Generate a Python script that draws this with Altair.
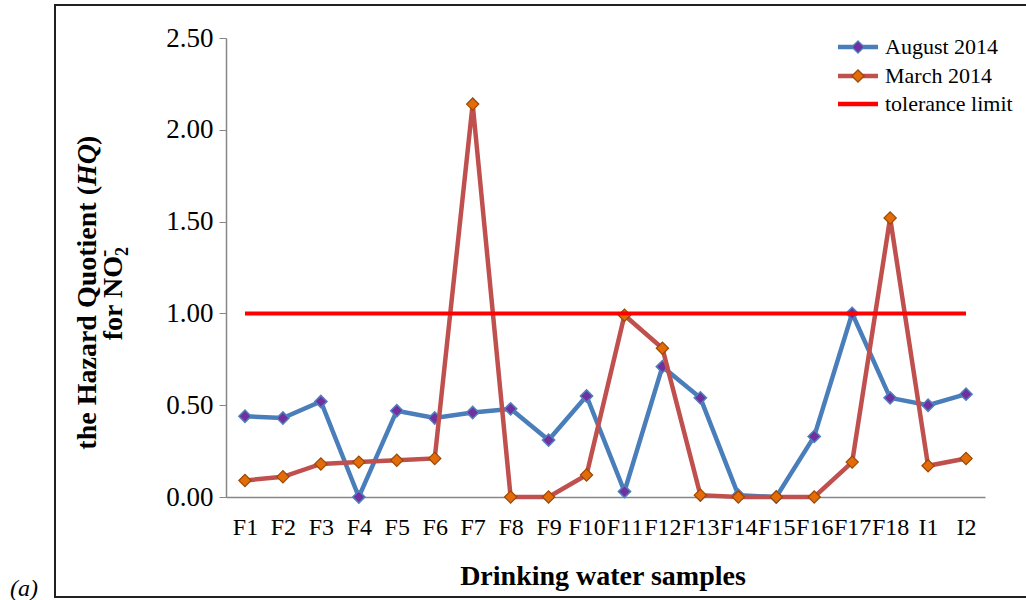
import altair as alt
import pandas as pd

samples = ["F1", "F2", "F3", "F4", "F5", "F6", "F7", "F8", "F9", "F10",
           "F11", "F12", "F13", "F14", "F15", "F16", "F17", "F18", "I1", "I2"]
august = [0.44, 0.43, 0.52, 0.00, 0.47, 0.43, 0.46, 0.48, 0.31, 0.55,
          0.03, 0.71, 0.54, 0.01, 0.00, 0.33, 1.00, 0.54, 0.50, 0.56]
march = [0.09, 0.11, 0.18, 0.19, 0.20, 0.21, 2.14, 0.00, 0.00, 0.12,
         0.99, 0.81, 0.01, 0.00, 0.00, 0.00, 0.19, 1.52, 0.17, 0.21]
tolerance = [1.0] * len(samples)
y_ticks = [0.0, 0.5, 1.0, 1.5, 2.0, 2.5]

SERIF = "Liberation Serif"
AUG_LINE, AUG_FILL, AUG_EDGE = "#4A7EBB", "#7030A0", "#4F81BD"
MAR_LINE, MAR_FILL, MAR_EDGE = "#C0504D", "#E36C09", "#984807"
LIMIT = "#FF0000"

df_aug = pd.DataFrame({"sample": samples, "hq": august})
df_mar = pd.DataFrame({"sample": samples, "hq": march})
df_lim = pd.DataFrame({"sample": samples, "hq": tolerance})

xs = alt.Scale(type="point", padding=0.5, domain=samples)
ys = alt.Scale(domain=[0, 2.5], nice=False)

x_enc = alt.X("sample:N", scale=xs, sort=samples,
              axis=alt.Axis(title=None, labelAngle=0, ticks=False, labelFont=SERIF,
                            labelFontSize=24, labelColor="black", labelPadding=18,
                            domainColor="#868686", domainWidth=1.5, grid=False,
                            labelOverlap=False))
y_enc = alt.Y("hq:Q", scale=ys,
              axis=alt.Axis(title=None, values=y_ticks, format=".2f", grid=False,
                            labelFont=SERIF, labelFontSize=27, labelColor="black",
                            labelPadding=6, tickSize=7, tickColor="#868686",
                            domainColor="#868686", domainWidth=1.5))

aug_line = alt.Chart(df_aug).mark_line(color=AUG_LINE, strokeWidth=4.5).encode(x=x_enc, y=y_enc)
aug_pts = alt.Chart(df_aug).mark_point(shape="diamond", size=150, filled=True, fill=AUG_FILL,
                                       stroke=AUG_EDGE, strokeWidth=1.5, opacity=1).encode(x=x_enc, y=y_enc)
mar_line = alt.Chart(df_mar).mark_line(color=MAR_LINE, strokeWidth=4.5).encode(x=x_enc, y=y_enc)
mar_pts = alt.Chart(df_mar).mark_point(shape="diamond", size=150, filled=True, fill=MAR_FILL,
                                       stroke=MAR_EDGE, strokeWidth=1.2, opacity=1).encode(x=x_enc, y=y_enc)
lim_line = alt.Chart(df_lim).mark_line(color=LIMIT, strokeWidth=4).encode(x=x_enc, y=y_enc)


def txt(s, x, y, size=28, weight="bold", style="normal", align="left", angle=0, baseline="alphabetic"):
    return alt.Chart(pd.DataFrame({"t": [s]})).mark_text(
        font=SERIF, fontSize=size, fontWeight=weight, fontStyle=style, align=align,
        baseline=baseline, angle=angle, color="black"
    ).encode(x=alt.value(x), y=alt.value(y), text="t:N")


# frame
frame = alt.Chart(pd.DataFrame({"a": [0]})).mark_rect(filled=False, stroke="#202020", strokeWidth=2).encode(
    x=alt.value(-171), x2=alt.value(806), y=alt.value(-33), y2=alt.value(559))

# y title (rotated, mixed styles)
A = 148
B = 218
ytitle = [
    txt("the Hazard Quotient (", -130, A, align="right", angle=270),
    txt("HQ", -130, A, style="italic", align="left", angle=270),
    txt(")", -130, A - 41, align="left", angle=270),
    txt("for NO", -104, B, align="right", angle=270),
    txt("2", -98, B, size=18, align="left", angle=270),
    txt("-", -116, B + 1, size=22, align="left", angle=270),
]
xtitle = txt("Drinking water samples", 377, 547, align="center")
panel = txt("(a)", -216, 558, size=24, weight="normal", style="italic")

# legend
leg_names = ["August 2014", "March 2014", "tolerance limit"]
leg_y = [9, 38, 66]
legend = []
for name, ly, lc, fc, ec in zip(leg_names, leg_y,
                                [AUG_LINE, MAR_LINE, LIMIT],
                                [AUG_FILL, MAR_FILL, None],
                                [AUG_EDGE, MAR_EDGE, None]):
    legend.append(alt.Chart(pd.DataFrame({"a": [0]})).mark_rule(color=lc, strokeWidth=4.5).encode(
        x=alt.value(612), x2=alt.value(652), y=alt.value(ly)))
    if fc:
        legend.append(alt.Chart(pd.DataFrame({"a": [0]})).mark_point(
            shape="diamond", size=150, filled=True, fill=fc, stroke=ec, strokeWidth=1.3, opacity=1
        ).encode(x=alt.value(632), y=alt.value(ly)))
    legend.append(txt(name, 659, ly, size=22, weight="normal", baseline="middle"))

chart = alt.layer(
    frame, aug_line, aug_pts, mar_line, mar_pts, lim_line,
    *ytitle, xtitle, panel, *legend
).properties(
    width=759, height=459,
    autosize=alt.AutoSizeParams(type="none"),
    padding={"left": 226, "top": 38, "right": 41, "bottom": 103},
).configure_view(stroke=None)

chart.save("out.html", embed_options={"renderer": "svg", "actions": False})
